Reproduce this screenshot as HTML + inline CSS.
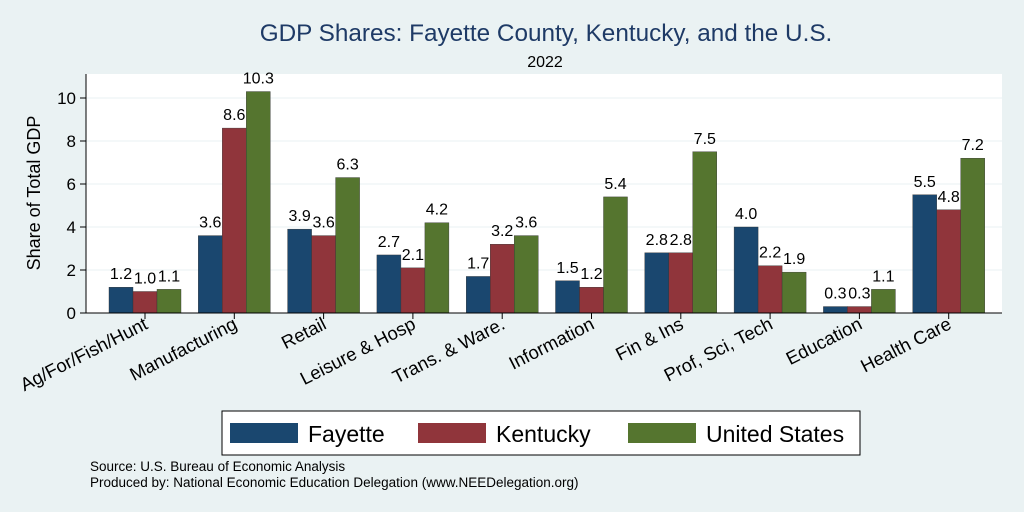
<!DOCTYPE html>
<html><head><meta charset="utf-8"><style>
body{margin:0;background:#eaf2f3;}
svg{display:block;font-family:"Liberation Sans",sans-serif;}
</style></head><body>
<svg id="c" width="1024" height="512" viewBox="0 0 1024 512">
<rect x="0" y="0" width="1024" height="512" fill="#eaf2f3"/>
<text x="546" y="41" font-size="24.3" fill="#1e3a66" text-anchor="middle">GDP Shares: Fayette County, Kentucky, and the U.S.</text>
<text x="545" y="67" font-size="16" fill="#000" text-anchor="middle">2022</text>
<rect x="86" y="74" width="916" height="239" fill="#fff"/>
<g id="grid"></g><g id="bars"></g><g id="labels"></g><g id="axes"></g>
<text transform="translate(40,193) rotate(-90)" font-size="18" text-anchor="middle">Share of Total GDP</text>
<g>
<rect x="222" y="411" width="638" height="44" fill="#fff" stroke="#000" stroke-width="1"/>
<rect x="230" y="423" width="68" height="20" fill="#1a476f"/>
<text x="308" y="442" font-size="23">Fayette</text>
<rect x="418" y="423" width="68" height="20" fill="#90353b"/>
<text x="496" y="442" font-size="23">Kentucky</text>
<rect x="628" y="423" width="68" height="20" fill="#55752f"/>
<text x="706" y="442" font-size="23">United States</text>
</g>
<text x="90" y="471" font-size="13.5">Source: U.S. Bureau of Economic Analysis</text>
<text x="90" y="487" font-size="13.5">Produced by: National Economic Education Delegation (www.NEEDelegation.org)</text>
</svg>
<script>
const categories=["Ag/For/Fish/Hunt","Manufacturing","Retail","Leisure & Hosp","Trans. & Ware.","Information","Fin & Ins","Prof, Sci, Tech","Education","Health Care"];
const fayette=[1.2,3.6,3.9,2.7,1.7,1.5,2.8,4.0,0.3,5.5];
const kentucky=[1.0,8.6,3.6,2.1,3.2,1.2,2.8,2.2,0.3,4.8];
const unitedStates=[1.1,10.3,6.3,4.2,3.6,5.4,7.5,1.9,1.1,7.2];
const yTicks=[0,2,4,6,8,10];
const NS="http://www.w3.org/2000/svg";
const y0=313,pxPer=21.5;
function yS(v){return y0-v*pxPer;}
function xC(i){return 145+i*89.3;}
function mk(tag,attrs,parent){const e=document.createElementNS(NS,tag);for(const k in attrs)e.setAttribute(k,attrs[k]);document.getElementById(parent).appendChild(e);return e;}
yTicks.forEach(t=>{
 if(t>0){const g=mk('line',{x1:86,x2:1002,y1:yS(t),y2:yS(t),stroke:'#eaf2f3','stroke-width':1},'grid');
 
 }
 const tk=mk('line',{x1:80,x2:86,y1:yS(t),y2:yS(t),stroke:'#000'},'axes');
 
 
 const tl=mk('text',{x:76,y:yS(t)+6,'font-size':17,'text-anchor':'end'},'axes');
 tl.textContent=t;
 
 
});
const ax=mk('line',{x1:86,x2:86,y1:74,y2:313,stroke:'#000'},'axes');


const bx=mk('line',{x1:86,x2:1002,y1:313,y2:313,stroke:'#000'},'axes');


const series=[[fayette,'#1a476f','fayette'],[kentucky,'#90353b','kentucky'],[unitedStates,'#55752f','us']];
const bw=24;
categories.forEach((c,i)=>{
 series.forEach(([vals,col,nm],j)=>{
  const x=xC(i)-36+j*bw,v=vals[i];
  const r=mk('rect',{x:x,y:yS(v),width:bw,height:v*pxPer,fill:col,stroke:'#333','stroke-width':0.4},'bars');
  
  
  const l=mk('text',{x:x+bw/2,y:yS(v)-8,'font-size':16,'text-anchor':'middle'},'labels');
  l.textContent=v.toFixed(1);
  
  
 });
 const tk=mk('line',{x1:xC(i),x2:xC(i),y1:313,y2:319,stroke:'#000'},'axes');
 
 
 const t=mk('text',{x:xC(i)+4,y:328,'font-size':18.5,'text-anchor':'end',transform:`rotate(-27 ${xC(i)+4} 328)`},'axes');
 t.textContent=c;
 
 
});
</script>
</body></html>
